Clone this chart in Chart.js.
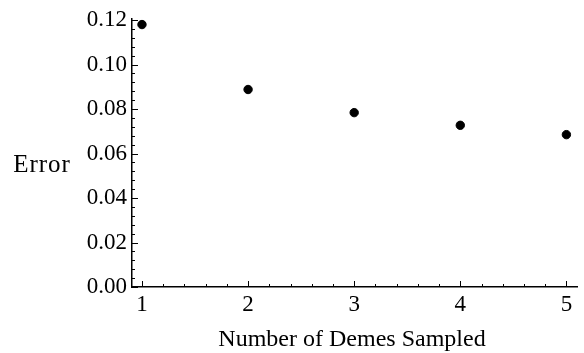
<!DOCTYPE html>
<html lang="en">
<head>
<meta charset="UTF-8">
<title>Error vs Number of Demes Sampled</title>
<style>
  html, body { margin: 0; padding: 0; background: #fff; }
  #chart { display: block; }
</style>
<script src="https://cdn.jsdelivr.net/npm/chart.js"></script>
</head>
<body>
<canvas id="chart" width="584" height="353"></canvas>
<script>
// data
const demes = [1, 2, 3, 4, 5];
const errors = [0.1180, 0.0888, 0.0784, 0.0727, 0.0685];
const yTicks = [0.00, 0.02, 0.04, 0.06, 0.08, 0.10, 0.12];
const xTicks = [1, 2, 3, 4, 5];

const FONT = '"Liberation Serif", "Times New Roman", serif';

// Mathematica-style inward ticks + horizontal axis titles
const frameTicks = {
  id: 'frameTicks',
  afterDraw(chart) {
    const ctx = chart.ctx;
    const xs = chart.scales.x, ys = chart.scales.y;
    const area = chart.chartArea;
    ctx.save();
    ctx.strokeStyle = '#000';
    ctx.lineWidth = 1;
    // y ticks
    for (let i = 0; i <= 30; i++) {
      const v = i * 0.004;
      const py = Math.round(ys.getPixelForValue(v)) + 0.5;
      const len = (i % 5 === 0) ? 6 : 3;
      ctx.beginPath();
      ctx.moveTo(area.left, py);
      ctx.lineTo(area.left + len, py);
      ctx.stroke();
    }
    // x ticks
    for (let i = 5; i <= 25; i++) {
      const v = i * 0.2;
      const px = Math.round(xs.getPixelForValue(v)) + 0.5;
      const len = (i % 5 === 0) ? 6 : 3;
      ctx.beginPath();
      ctx.moveTo(px, area.bottom);
      ctx.lineTo(px, area.bottom - len);
      ctx.stroke();
    }
    // titles
    ctx.fillStyle = '#000';
    ctx.font = '24px ' + FONT;
    ctx.textAlign = 'center';
    ctx.textBaseline = 'alphabetic';
    ctx.fillText('Number of Demes Sampled', 352, 346);
    ctx.font = '25px ' + FONT;
    ctx.letterSpacing = '1px';
    ctx.fillText('Error', 42, 172);
    ctx.restore();
  }
};

new Chart(document.getElementById('chart'), {
  type: 'scatter',
  data: {
    datasets: [{
      data: demes.map((d, i) => ({ x: d, y: errors[i] })),
      backgroundColor: '#000',
      borderColor: '#000',
      pointRadius: 4.2,
      pointHoverRadius: 4.2
    }]
  },
  options: {
    responsive: false,
    animation: false,
    layout: { padding: { left: 0, right: 7, top: 19, bottom: 0 } },
    plugins: { legend: { display: false }, tooltip: { enabled: false } },
    scales: {
      x: {
        type: 'linear',
        min: 0.906,
        max: 5.1,
        afterFit(s) { s.height = 66; },
        afterBuildTicks(s) { s.ticks = xTicks.map(v => ({ value: v })); },
        grid: { display: false, drawTicks: false },
        border: { display: true, color: '#000', width: 1.5 },
        ticks: {
          color: '#000',
          font: { family: FONT, size: 23 },
          padding: 4,
          callback: v => String(v)
        }
      },
      y: {
        type: 'linear',
        min: 0,
        max: 0.1205,
        afterFit(s) { s.width = 132; },
        afterBuildTicks(s) { s.ticks = yTicks.map(v => ({ value: v })); },
        grid: { display: false, drawTicks: false },
        border: { display: true, color: '#000', width: 1.5 },
        ticks: {
          color: '#000',
          font: { family: FONT, size: 23 },
          padding: 5,
          callback: v => v.toFixed(2)
        }
      }
    }
  },
  plugins: [frameTicks]
});
</script>
</body>
</html>
